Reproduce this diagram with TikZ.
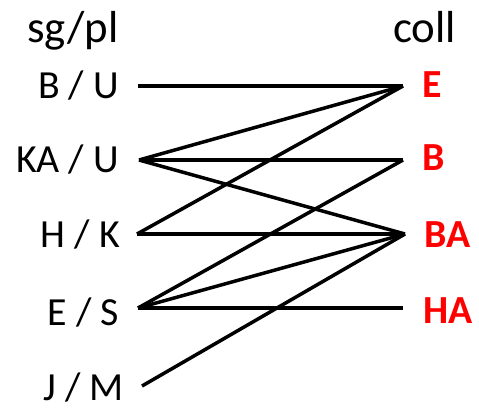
\documentclass[tikz,border=0pt]{standalone}
\usepackage{fontspec}
\setmainfont{Carlito}
\begin{document}
\begin{tikzpicture}[x=1bp,y=-1bp,
  lab/.style={inner sep=0pt,font=\fontsize{40}{40}\selectfont},
  coll/.style={inner sep=0pt,font=\fontsize{40}{40}\selectfont\bfseries,text=red},
  head/.style={inner sep=0pt,font=\fontsize{45}{45}\selectfont},
  link/.style={line width=3.5bp,black}]
\useasboundingbox (0,0) rectangle (479,409);
% headers
\node[head,anchor=base west] (h1) at (27,42) {sg/pl};
\node[head,anchor=base east] (h2) at (456,42) {coll};
% left labels
\node[lab,anchor=base east] (a1) at (119,98) {B / U};
\node[lab,anchor=base east] (a2) at (119,172) {KA / U};
\node[lab,anchor=base east] (a3) at (120,247) {H / K};
\node[lab,anchor=base east] (a4) at (119,325) {E / S};
\node[lab,anchor=base east] (a5) at (124,400) {J / M};
% right labels
\node[coll,anchor=base west] (b1) at (422,97) {E};
\node[coll,anchor=base west] (b2) at (422,170) {B};
\node[coll,anchor=base west] (b3) at (424,247) {BA};
\node[coll,anchor=base west] (b4) at (423,323) {HA};
% endpoints
\coordinate (l1) at (138,86);
\coordinate (l2) at (139,160);
\coordinate (l3) at (137,234);
\coordinate (l4) at (138,308);
\coordinate (l5) at (142,386);
\coordinate (r1) at (403,86);
\coordinate (r2) at (403,160);
\coordinate (r3) at (405,234);
\coordinate (r4) at (403,308);
% connectors
\draw[link] (l1) -- (r1);
\draw[link] (l2) -- (r1);
\draw[link] (l2) -- (r2);
\draw[link] (l2) -- (r3);
\draw[link] (l3) -- (r1);
\draw[link] (l3) -- (r3);
\draw[link] (l4) -- (r2);
\draw[link] (l4) -- (r3);
\draw[link] (l4) -- (r4);
\draw[link] (l5) -- (r3);
\end{tikzpicture}
\end{document}
